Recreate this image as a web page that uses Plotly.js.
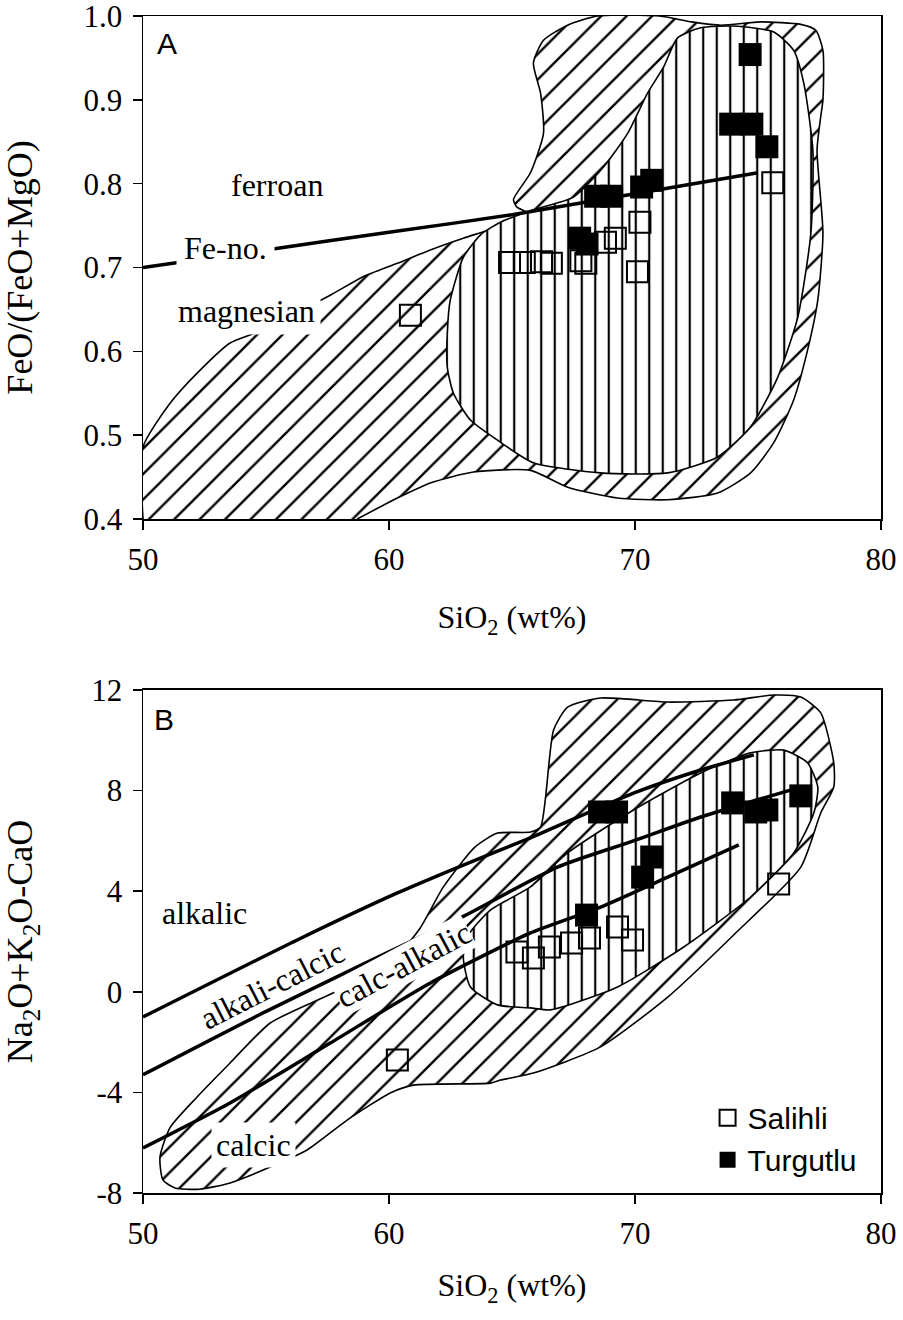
<!DOCTYPE html>
<html><head><meta charset="utf-8">
<script src="https://cdn.plot.ly/plotly-3.0.1.min.js"></script>
<style>body{margin:0;background:#fff}</style>
</head><body><div id="chart" style="width:903px;height:1320px"></div>
<script>
// ---------- Panel A : FeO/(FeO+MgO) vs SiO2 ----------
const fieldA_outer_x = [50, 50, 51.1, 52.2, 53.54, 54.64, 57.61, 58.95, 60.34, 61.68, 63.02, 64.41, 65.63, 65.2, 65.06, 65.75, 66.28, 66.16, 65.87, 66.28, 67.26, 68.48, 71.0, 72.3, 73.5, 75.1, 76.74, 77.35, 77.64, 77.64, 77.55, 77.4, 77.64, 77.43, 77.02, 76.45, 75.64, 74.70, 73.36, 71.33, 69.29, 67.26, 65.75, 63.43, 61.68, 60.34, 58.71];
const fieldA_outer_y = [0.40, 0.486, 0.538, 0.574, 0.610, 0.623, 0.667, 0.689, 0.705, 0.721, 0.735, 0.748, 0.765, 0.772, 0.781, 0.813, 0.860, 0.908, 0.944, 0.971, 0.989, 1.0, 1.0, 0.993, 0.989, 0.993, 0.99, 0.983, 0.959, 0.90, 0.88, 0.84, 0.741, 0.661, 0.602, 0.542, 0.491, 0.455, 0.431, 0.423, 0.425, 0.438, 0.458, 0.456, 0.443, 0.425, 0.40];
const fieldA_inner_x = [63.02, 62.49, 62.37, 62.37, 62.62, 63.31, 64.41, 65.87, 68.60, 71.33, 73.36, 74.70, 75.80, 76.62, 77.15, 77.23, 76.86, 76.45, 75.64, 74.01, 72.67, 71.73, 71.16, 70.51, 69.70, 68.72, 67.50, 65.87, 64.53, 63.72, 63.02];
const fieldA_inner_y = [0.712, 0.661, 0.622, 0.581, 0.550, 0.518, 0.494, 0.467, 0.455, 0.455, 0.474, 0.510, 0.569, 0.641, 0.741, 0.840, 0.920, 0.959, 0.981, 0.988, 0.986, 0.974, 0.939, 0.908, 0.860, 0.820, 0.784, 0.769, 0.754, 0.739, 0.712];
const feNo_x = [50, 55, 60, 65, 70, 75];
const feNo_y = [0.700, 0.721, 0.742, 0.763, 0.788, 0.813];
const salihliA_x = [60.87, 64.9, 65.5, 66.2, 66.6, 67.8, 68.0, 68.8, 69.2, 70.2, 70.1, 75.6];
const salihliA_y = [0.643, 0.706, 0.706, 0.707, 0.705, 0.708, 0.705, 0.730, 0.735, 0.754, 0.695, 0.801];
const turgutluA_x = [67.75, 68.05, 68.4, 69.05, 70.27, 70.68, 73.89, 74.75, 74.68, 75.36];
const turgutluA_y = [0.735, 0.728, 0.785, 0.785, 0.796, 0.804, 0.871, 0.871, 0.954, 0.844];

// ---------- Panel B : Na2O+K2O-CaO vs SiO2 ----------
const fieldB_outer_x = [50.81, 50.69, 51.10, 52.20, 53.54, 55.17, 57.61, 60.0, 61.27, 62.21, 63.5, 64.41, 65.75, 66.16, 66.69, 67.26, 68.60, 71.33, 74.01, 75.64, 76.74, 77.55, 78.08, 78.08, 77.55, 76.74, 74.01, 71.33, 68.60, 65.87, 64.53, 64.12, 60.99, 60.05, 58.30, 56.67, 55.17, 53.54, 52.3, 51.3, 50.81];
const fieldB_outer_y = [-7.48, -6.57, -5.40, -4.18, -2.83, -1.24, -0.10, 1.10, 2.54, 4.17, 5.76, 6.31, 6.35, 6.55, 10.41, 11.32, 11.68, 11.52, 11.60, 11.80, 11.72, 11.09, 9.10, 8.14, 7.11, 4.96, 2.26, -0.21, -2.19, -3.23, -3.51, -3.63, -3.71, -4.02, -5.10, -6.29, -6.97, -7.60, -7.85, -7.80, -7.48];
const fieldB_inner_x = [63.02, 63.31, 64.41, 65.75, 66.56, 69.29, 71.98, 74.70, 76.45, 77.27, 77.43, 77.02, 76.05, 74.70, 72.67, 69.94, 67.26, 65.75, 64.12, 63.23, 63.02];
const fieldB_inner_y = [1.38, 0.19, -0.52, -0.64, -0.72, 0.19, 1.78, 3.77, 5.52, 7.11, 8.14, 9.10, 9.61, 9.50, 8.70, 7.23, 5.52, 4.17, 3.25, 2.26, 1.38];
const alkalic_x = [50, 56.27, 60.34, 63.02, 65.75, 69.94, 72.67, 74.83];
const alkalic_y = [-1.0, 2.06, 3.93, 5.04, 6.12, 7.9, 8.82, 9.42];
const alkCalcic_x = [50, 54.88, 58.95, 63.02, 66.85, 69.94, 72.67, 76.6];
const alkCalcic_y = [-3.3, -0.84, 1.1, 3.0, 4.96, 6.0, 6.95, 8.1];
const calcAlk_x = [50, 53.54, 57.61, 61.68, 65.75, 68.6, 71.33, 74.22];
const calcAlk_y = [-6.21, -4.42, -2.04, 0.35, 2.34, 3.37, 4.56, 5.84];
const salihliB_x = [60.34, 65.2, 65.87, 66.52, 67.42, 68.15, 69.29, 69.9, 75.84];
const salihliB_y = [-2.71, 1.58, 1.34, 1.78, 1.94, 2.14, 2.58, 2.06, 4.29];
const turgutluB_x = [68.03, 68.56, 69.25, 70.31, 70.68, 73.97, 74.91, 75.36, 76.74];
const turgutluB_y = [3.05, 7.15, 7.15, 4.56, 5.36, 7.51, 7.15, 7.23, 7.79];

const xTicks = [50, 60, 70, 80];
const xTickText = ['50', '60', '70', '80'];
const yTicksA = [0.4, 0.5, 0.6, 0.7, 0.8, 0.9, 1.0];
const yTickTextA = ['0.4', '0.5', '0.6', '0.7', '0.8', '0.9', '1.0'];
const yTicksB = [-8, -4, 0, 4, 8, 12];
const yTickTextB = ['-8', '-4', '0', '4', '8', '12'];

function field(x, y, xa, ya, shape, size, sol) {
  return {type: 'scatter', mode: 'lines', x: x, y: y, xaxis: xa, yaxis: ya,
    fill: 'toself', fillcolor: 'white',
    fillpattern: {shape: shape, size: size, solidity: sol, fgcolor: 'black', bgcolor: 'white'},
    line: {color: 'black', width: 1.6, shape: 'spline', smoothing: 0.6},
    hoverinfo: 'skip', showlegend: false};
}
function boundary(x, y, xa, ya) {
  return {type: 'scatter', mode: 'lines', x: x, y: y, xaxis: xa, yaxis: ya,
    line: {color: 'black', width: 3.5, shape: 'spline', smoothing: 0.6},
    hoverinfo: 'skip', showlegend: false};
}
function pts(x, y, xa, ya, name, filled, show) {
  return {type: 'scatter', mode: 'markers', x: x, y: y, xaxis: xa, yaxis: ya, name: name,
    marker: filled ? {symbol: 'square', size: 23, color: 'black', line: {width: 0}}
                   : {symbol: 'square-open', size: 21, color: 'black', line: {width: 2, color: 'black'}},
    showlegend: show, legendgroup: name};
}

const traces = [
  field(fieldA_outer_x, fieldA_outer_y, 'x', 'y', '/', 18, 0.13),
  field(fieldA_inner_x, fieldA_inner_y, 'x', 'y', '|', 13.5, 0.16),
  boundary(feNo_x, feNo_y, 'x', 'y'),
  pts(salihliA_x, salihliA_y, 'x', 'y', 'Salihli', false, false),
  pts(turgutluA_x, turgutluA_y, 'x', 'y', 'Turgutlu', true, false),
  field(fieldB_outer_x, fieldB_outer_y, 'x2', 'y2', '/', 18, 0.13),
  field(fieldB_inner_x, fieldB_inner_y, 'x2', 'y2', '|', 13.5, 0.16),
  boundary(alkalic_x, alkalic_y, 'x2', 'y2'),
  boundary(alkCalcic_x, alkCalcic_y, 'x2', 'y2'),
  boundary(calcAlk_x, calcAlk_y, 'x2', 'y2'),
  pts(salihliB_x, salihliB_y, 'x2', 'y2', 'Salihli', false, true),
  pts(turgutluB_x, turgutluB_y, 'x2', 'y2', 'Turgutlu', true, true)
];

const serif = 'Liberation Serif, Times New Roman, serif';
const sans = 'Liberation Sans, Arial, sans-serif';
const axBase = {showline: true, linecolor: 'black', linewidth: 1.5, mirror: true,
  ticks: 'outside', ticklen: 9, tickwidth: 1.5, tickcolor: 'black',
  ticklabeloverflow: 'allow',
  showgrid: false, zeroline: false, tickfont: {family: serif, size: 31, color: 'black'}};

function ann(text, x, y, xr, yr, opts) {
  return Object.assign({text: text, x: x, y: y, xref: xr, yref: yr, showarrow: false,
    font: {family: serif, size: 32, color: 'black'}}, opts || {});
}

const layout = {
  width: 903, height: 1320,
  margin: {l: 143, r: 22, t: 16, b: 127},
  paper_bgcolor: 'white', plot_bgcolor: 'white',
  font: {family: serif, size: 31, color: 'black'},
  showlegend: true,
  legend: {x: 0.765, y: 0.086, xanchor: 'left', yanchor: 'top', bgcolor: 'rgba(0,0,0,0)',
    font: {family: sans, size: 30, color: 'black'}, tracegroupgap: 0},
  xaxis: Object.assign({}, axBase, {domain: [0, 1], range: [50, 80], anchor: 'y',
    tickvals: xTicks, ticktext: xTickText, ticklabelstandoff: 3,
    title: {text: 'SiO<sub>2</sub> (wt%)', font: {family: serif, size: 32}, standoff: 30}}),
  yaxis: Object.assign({}, axBase, {domain: [0.57264, 1], range: [0.4, 1.0], anchor: 'x',
    tickvals: yTicksA, ticktext: yTickTextA, ticklabelstandoff: 4,
    title: {text: 'FeO/(FeO+MgO)', font: {family: serif, size: 36}, standoff: 42}}),
  xaxis2: Object.assign({}, axBase, {domain: [0, 1], range: [50, 80], anchor: 'y2',
    tickvals: xTicks, ticktext: xTickText, ticklabelstandoff: 3,
    title: {text: 'SiO<sub>2</sub> (wt%)', font: {family: serif, size: 32}, standoff: 24}}),
  yaxis2: Object.assign({}, axBase, {domain: [0, 0.42736], range: [-8, 12], anchor: 'x2',
    tickvals: yTicksB, ticktext: yTickTextB, ticklabelstandoff: 4,
    title: {text: 'Na<sub>2</sub>O+K<sub>2</sub>O-CaO', font: {family: serif, size: 36}, standoff: 50}}),
  annotations: [
    ann('A', 50.49, 0.967, 'x', 'y', {xanchor: 'left', font: {family: sans, size: 30, color: 'black'}}),
    ann('ferroan', 55.45, 0.798, 'x', 'y'),
    ann('Fe-no.', 53.34, 0.723, 'x', 'y', {bgcolor: 'white', borderpad: 7}),
    ann('magnesian', 54.19, 0.648, 'x', 'y', {bgcolor: 'white', borderpad: 5}),
    ann('B', 50.37, 10.81, 'x2', 'y2', {xanchor: 'left', font: {family: sans, size: 30, color: 'black'}}),
    ann('alkalic', 52.48, 3.13, 'x2', 'y2'),
    ann('alkali-calcic', 55.25, 0.27, 'x2', 'y2', {textangle: -27, bgcolor: 'white', borderpad: 0}),
    ann('calc-alkalic', 60.58, 1.07, 'x2', 'y2', {textangle: -28, bgcolor: 'white', borderpad: 0}),
    ann('calcic', 54.48, -6.09, 'x2', 'y2', {bgcolor: 'white', borderpad: 4})
  ]
};

Plotly.newPlot('chart', traces, layout, {displayModeBar: false, staticPlot: true});
</script></body></html>
